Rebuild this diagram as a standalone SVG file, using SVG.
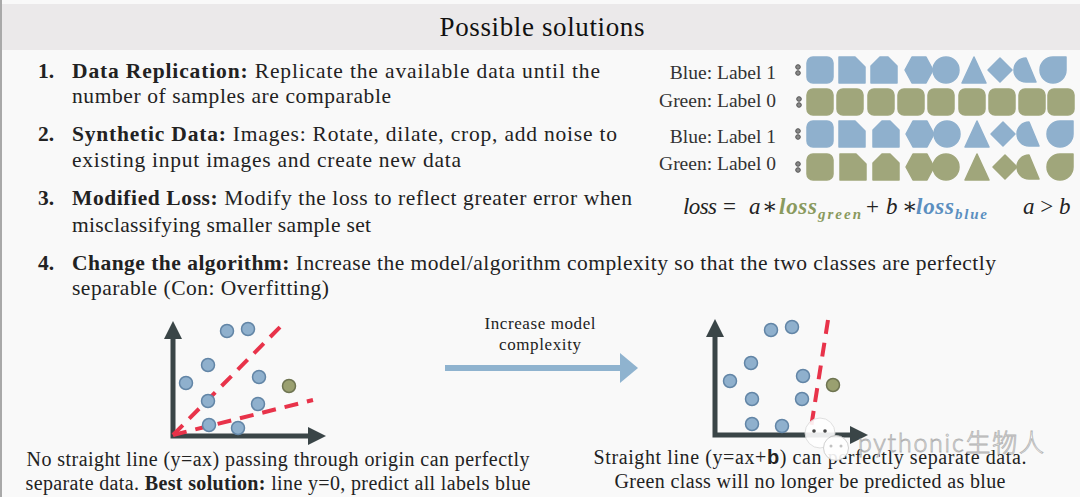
<svg xmlns="http://www.w3.org/2000/svg" xmlns:xlink="http://www.w3.org/1999/xlink" width="1080" height="497" viewBox="0 0 1080 497">
<style>
.t{font-family:"Liberation Serif","DejaVu Serif",serif;fill:#222;}
.item{font-size:21.5px;}
.b{font-weight:bold;}
.lbl{font-size:19.5px;fill:#333;}
.cap{font-size:20px;}
.blue{fill:#8fb0cd;stroke:#8fb0cd;stroke-width:1.5;stroke-linejoin:round;}
.green{fill:#a0a67b;stroke:#a0a67b;stroke-width:1.5;stroke-linejoin:round;}
.pt{fill:#8fb0cd;stroke:#6285a6;stroke-width:1.5;}
.gpt{fill:#9aa070;stroke:#6e7451;stroke-width:1.5;}
.axis{stroke:#3a4547;stroke-width:5;fill:none;}
.axh{fill:#3a4547;}
.red{stroke:#e8334a;stroke-width:4;stroke-dasharray:14 9;fill:none;}
.dots{fill:#888;stroke:#555;stroke-width:1;}
.m{font-family:"Liberation Serif","DejaVu Serif",serif;font-style:italic;font-size:23px;fill:#222;}
.n{font-style:normal;}
.sub{font-size:15px;font-weight:bold;}
.gc{fill:#8a9a5e;}
.bc{fill:#5b8fc0;}
</style>
<defs>
<rect id="s1" x="-13" y="-13" width="26" height="26" rx="6"/>
<path id="s2" d="M-13,-13 H3 L13,-3 V13 H-13 Z"/>
<path id="s3" d="M-13,13 V-4 L-4,-13 H4 L13,-4 V13 Z"/>
<path id="s4" d="M-14,0 L-7,-13 H7 L14,0 L7,13 H-7 Z"/>
<circle id="s5" r="13"/>
<path id="s6" d="M0,-13 L12,13 H-12 Z"/>
<path id="s7" d="M0,-12 L12,0 L0,12 L-12,0 Z"/>
<path id="s8" d="M0,-12 L10,12 L0,12 A12,12 0 0 1 0,-12 Z"/>
<path id="s9" d="M-13,0 A13,13 0 0 1 0,-13 H13 V0 A13,13 0 0 1 0,13 A13,13 0 0 1 -13,0 Z"/>
<g id="dd"><circle cx="0" cy="-3" r="2.3"/><circle cx="0" cy="3" r="2.3"/></g>
</defs>
<rect width="1080" height="497" fill="#f9f9f9"/>
<rect x="0" y="4" width="1080" height="46" fill="#ebe9ea"/>
<rect x="0" y="0" width="2" height="497" fill="#a9a9a9"/>
<g id="title"><text class="t" x="542" y="36" font-size="27" text-anchor="middle" textLength="205" style="fill:#111">Possible solutions</text></g>

<g id="items">
<text class="t item b" x="38" y="78">1.</text>
<text class="t item" x="72" y="78" textLength="528"><tspan class="b">Data Replication:</tspan> Replicate the available data until the</text>
<text class="t item" x="72" y="103" textLength="319">number of samples are comparable</text>
<text class="t item b" x="38" y="141">2.</text>
<text class="t item" x="72" y="141" textLength="545"><tspan class="b">Synthetic Data:</tspan> Images: Rotate, dilate, crop, add noise to</text>
<text class="t item" x="72" y="167" textLength="389">existing input images and create new data</text>
<text class="t item b" x="38" y="205">3.</text>
<text class="t item" x="72" y="205" textLength="560"><tspan class="b">Modified Loss:</tspan> Modify the loss to reflect greater error when</text>
<text class="t item" x="72" y="232" textLength="299">misclassifying smaller sample set</text>
<text class="t item b" x="38" y="270">4.</text>
<text class="t item" x="72" y="270" textLength="924"><tspan class="b">Change the algorithm:</tspan> Increase the model/algorithm complexity so that the two classes are perfectly</text>
<text class="t item" x="72" y="295" textLength="257">separable (Con: Overfitting)</text>
</g>

<g id="labels">
<text class="t lbl" x="776" y="79" text-anchor="end">Blue: Label 1</text>
<text class="t lbl" x="776" y="107" text-anchor="end">Green: Label 0</text>
<text class="t lbl" x="776" y="143" text-anchor="end">Blue: Label 1</text>
<text class="t lbl" x="776" y="170" text-anchor="end">Green: Label 0</text>
<use xlink:href="#dd" class="dots" x="798" y="70"/>
<use xlink:href="#dd" class="dots" x="799" y="102"/>
<use xlink:href="#dd" class="dots" x="798" y="134"/>
<use xlink:href="#dd" class="dots" x="798" y="167"/>
</g>

<g id="row1" class="blue">
<use xlink:href="#s1" x="820" y="70"/><use xlink:href="#s2" x="852" y="70"/><use xlink:href="#s3" x="884" y="70"/>
<use xlink:href="#s4" x="919" y="70"/><use xlink:href="#s5" x="946" y="70"/><use xlink:href="#s6" x="974" y="70"/>
<use xlink:href="#s7" x="1000" y="70"/><use xlink:href="#s8" x="1026" y="70"/><use xlink:href="#s9" x="1053" y="70"/>
</g>
<g id="row2" class="green">
<use xlink:href="#s1" x="820" y="102"/><use xlink:href="#s1" x="850" y="102"/><use xlink:href="#s1" x="881" y="102"/>
<use xlink:href="#s1" x="911" y="102"/><use xlink:href="#s1" x="941" y="102"/><use xlink:href="#s1" x="972" y="102"/>
<use xlink:href="#s1" x="1002" y="102"/><use xlink:href="#s1" x="1032" y="102"/><use xlink:href="#s1" x="1061" y="102"/>
</g>
<g id="row3" class="blue">
<use xlink:href="#s1" x="820" y="134"/><use xlink:href="#s2" x="852" y="134"/><use xlink:href="#s3" x="886" y="134"/>
<use xlink:href="#s4" x="920" y="134"/><use xlink:href="#s5" x="947" y="134"/><use xlink:href="#s6" x="977" y="134"/>
<use xlink:href="#s7" x="1003" y="134"/><use xlink:href="#s8" x="1029" y="134"/><use xlink:href="#s9" x="1060" y="134"/>
</g>
<g id="row4" class="green">
<use xlink:href="#s1" x="820" y="167"/><use xlink:href="#s2" x="853" y="167"/><use xlink:href="#s3" x="886" y="167"/>
<use xlink:href="#s4" x="920" y="167"/><use xlink:href="#s5" x="946" y="167"/><use xlink:href="#s6" x="977" y="167"/>
<use xlink:href="#s7" x="1005" y="167"/><use xlink:href="#s8" x="1029" y="167"/><use xlink:href="#s9" x="1060" y="167"/>
</g>

<g id="formula">
<text class="m" x="683" y="214" textLength="34">loss</text>
<text class="m n" x="723" y="214">=</text>
<text class="m" x="749" y="214">a</text>
<text class="m n" x="762" y="214">∗</text>
<text class="m gc" x="779" y="214" font-weight="bold" textLength="38">loss</text>
<text class="m gc sub" x="818" y="219" textLength="43">green</text>
<text class="m n" x="866" y="214">+</text>
<text class="m" x="886" y="214">b</text>
<text class="m n" x="902" y="214">∗</text>
<text class="m bc" x="916" y="214" font-weight="bold" textLength="38">loss</text>
<text class="m bc sub" x="955" y="219" textLength="32">blue</text>
<text class="m" x="1023" y="214">a <tspan class="n">&gt;</tspan> b</text>
</g>

<g id="plot-left">
<path class="axis" d="M173,336 V436 H310"/>
<path class="axh" d="M173,321 L164,339 H182 Z"/>
<path class="axh" d="M326,436 L308,427 V445 Z"/>
<line class="red" x1="173" y1="435" x2="284" y2="323"/>
<line class="red" x1="173" y1="435" x2="313" y2="400"/>
<circle class="pt" cx="227" cy="331" r="6.5"/>
<circle class="pt" cx="248" cy="329" r="6.5"/>
<circle class="pt" cx="208" cy="365" r="6.5"/>
<circle class="pt" cx="186" cy="383" r="6.5"/>
<circle class="pt" cx="259" cy="377" r="6.5"/>
<circle class="pt" cx="208" cy="401" r="6.5"/>
<circle class="pt" cx="258" cy="404" r="6.5"/>
<circle class="pt" cx="209" cy="425" r="6.5"/>
<circle class="pt" cx="238" cy="428" r="6.5"/>
<circle class="gpt" cx="289" cy="386" r="6.5"/>
</g>

<g id="connectors">
<line x1="445" y1="368" x2="622" y2="368" stroke="#8fb3cf" stroke-width="6"/>
<path d="M638,368 L620,353 V383 Z" fill="#8fb3cf"/>
<text class="t" x="540" y="329" font-size="17" text-anchor="middle" textLength="111">Increase model</text>
<text class="t" x="540" y="350" font-size="17" text-anchor="middle" textLength="82">complexity</text>
</g>

<g id="plot-right">
<path class="axis" d="M715,334 V435 H852"/>
<path class="axh" d="M715,319 L706,337 H724 Z"/>
<path class="axh" d="M868,435 L850,426 V444 Z"/>
<line class="red" x1="828" y1="320" x2="810" y2="434"/>
<circle class="pt" cx="771" cy="330" r="6.5"/>
<circle class="pt" cx="792" cy="327" r="6.5"/>
<circle class="pt" cx="751" cy="363" r="6.5"/>
<circle class="pt" cx="730" cy="381" r="6.5"/>
<circle class="pt" cx="803" cy="376" r="6.5"/>
<circle class="pt" cx="752" cy="399" r="6.5"/>
<circle class="pt" cx="802" cy="399" r="6.5"/>
<circle class="pt" cx="752" cy="424" r="6.5"/>
<circle class="pt" cx="782" cy="426" r="6.5"/>
<circle class="gpt" cx="833" cy="385" r="6.5"/>
</g>

<g id="captions">
<text class="t cap" x="278" y="466" text-anchor="middle" textLength="503">No straight line (y=ax) passing through origin can perfectly</text>
<text class="t cap" x="278" y="490" text-anchor="middle" textLength="505">separate data. <tspan class="b">Best solution:</tspan> line y=0, predict all labels blue</text>
<text class="t cap" x="810" y="464" text-anchor="middle" textLength="433">Straight line (y=ax+<tspan class="b" font-family="Liberation Sans, sans-serif">b</tspan>) can perfectly separate data.</text>
<text class="t cap" x="810" y="488" text-anchor="middle" textLength="391">Green class will no longer be predicted as blue</text>
</g>

<g id="watermark" opacity="0.9">
<circle cx="820" cy="433" r="15" fill="#fff" stroke="#ddd" stroke-width="1"/>
<circle cx="814" cy="431" r="1.8" fill="#333"/><circle cx="825" cy="431" r="1.8" fill="#333"/>
<circle cx="836" cy="448" r="12.5" fill="#fff" stroke="#ccc" stroke-width="1"/>
<circle cx="831" cy="446" r="1.5" fill="#bbb"/><circle cx="841" cy="446" r="1.5" fill="#bbb"/>
<text x="858" y="452" font-family="Lato,'Noto Sans CJK SC',sans-serif" font-size="25" font-weight="300" fill="#fff" stroke="#aaa" stroke-width="0.8" textLength="186">pythonic生物人</text>
</g>
</svg>
